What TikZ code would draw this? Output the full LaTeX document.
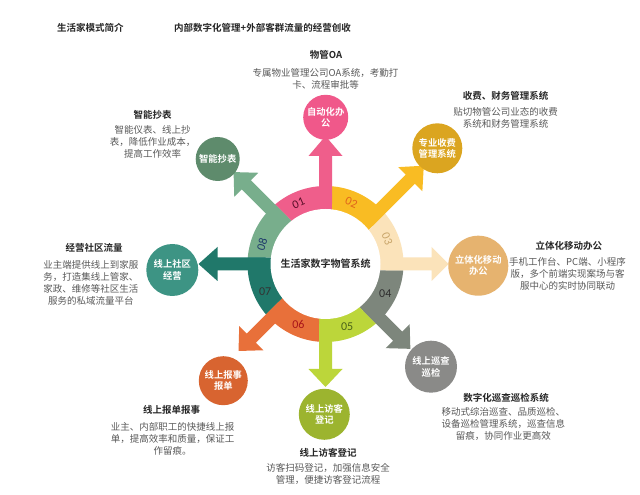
\documentclass[tikz,border=0pt]{standalone}
\usepackage{fontspec}
\setmainfont{Noto Sans CJK SC}[BoldFont={Noto Sans CJK SC Bold}]
\newfontfamily\numfont{Carlito}
\usetikzlibrary{calc}
\definecolor{s1}{HTML}{EF5E8B}
\definecolor{s2}{HTML}{F9BC23}
\definecolor{s3}{HTML}{FBE3BA}
\definecolor{s4}{HTML}{7D867C}
\definecolor{s5}{HTML}{BCD63A}
\definecolor{s6}{HTML}{E8703A}
\definecolor{s7}{HTML}{20786A}
\definecolor{s8}{HTML}{78AE8C}
\definecolor{b1}{HTML}{F0588A}
\definecolor{b2}{HTML}{DBA520}
\definecolor{b3}{HTML}{E6B36F}
\definecolor{b4}{HTML}{8A8A88}
\definecolor{b5}{HTML}{9CB42F}
\definecolor{b6}{HTML}{D86430}
\definecolor{b7}{HTML}{3D9484}
\definecolor{b8}{HTML}{5E8B6C}
\definecolor{n1}{HTML}{5A0E28}
\definecolor{n2}{HTML}{E0651C}
\definecolor{n3}{HTML}{C9A66B}
\definecolor{n4}{HTML}{2E2E2E}
\definecolor{n5}{HTML}{4A6318}
\definecolor{n6}{HTML}{A8141A}
\definecolor{n7}{HTML}{333333}
\definecolor{n8}{HTML}{1F3A6B}
\definecolor{hd}{HTML}{262626}
\definecolor{dc}{HTML}{595959}
\begin{document}
\begin{tikzpicture}[x=1pt,y=1pt,
  heading/.style={font=\bfseries\fontsize{9.5}{12}\selectfont, text=hd, inner sep=0},
  desc/.style={font=\fontsize{9.5}{12}\selectfont, text=dc, align=center, inner sep=0},
  bub/.style={circle, text=white, font=\bfseries\fontsize{9.3}{11.5}\selectfont, align=center, inner sep=0},
  numlbl/.style={font=\numfont\fontsize{12}{12}\selectfont, inner sep=0}]
\useasboundingbox (0,0) rectangle (640,495);
\fill[white] (0,0) rectangle (640,495);
\coordinate (C) at (325.5,231);
\def\Rout{78}\def\Rin{55}\def\hw{6.5}
% ring segments
\foreach \t/\col in {90/s1,45/s2,0/s3,-45/s4,-90/s5,-135/s6,-180/s7,-225/s8} {
  \fill[\col] ($(C)+({\t-90}:\hw)$) -- ($(C)+({\t-asin(\hw/\Rout)}:\Rout)$)
    arc[start angle={\t-asin(\hw/\Rout)}, end angle={\t+45-asin(\hw/\Rout)}, radius=\Rout]
    -- ($(C)+({\t-45}:\hw)$) -- cycle;
}
% arrows
\foreach \t/\lb/\lt/\col in {90/108/128/s1, 45/120/139/s2, 0/106/123/s3, -45/102/120/s4, -90/105/123/s5, -135/105/123/s6, 180/108/127/s7, 135/112/130/s8} {
  \fill[\col, shift={(C)}, rotate=\t] (60,-\hw) -- (\lb,-\hw) -- (\lb,-17) -- (\lt,0) -- (\lb,17) -- (\lb,\hw) -- (60,\hw) -- cycle;
}
\fill[white] (C) circle[radius=\Rin];
\node[font=\bfseries\fontsize{10}{12}\selectfont, text=hd] (ctr) at (C) {生活家数字物管系统};
% numbers
\node[numlbl, text=n1, rotate=24] (k1) at ($(C)+(114:66.5)$) {01};
\node[numlbl, text=n2, rotate=-23] (k2) at ($(C)+(67:66.5)$) {02};
\node[numlbl, text=n3, rotate=-68] (k3) at ($(C)+(22:66.5)$) {03};
\node[numlbl, text=n4] (k4) at ($(C)+(-26:66.5)$) {04};
\node[numlbl, text=n5] (k5) at ($(C)+(-71:66.5)$) {05};
\node[numlbl, text=n6] (k6) at ($(C)+(-114:66.5)$) {06};
\node[numlbl, text=n7] (k7) at ($(C)+(205:66.5)$) {07};
\node[numlbl, text=n8, rotate=73] (k8) at ($(C)+(163:66.5)$) {08};
% bubbles
\node[bub, fill=b1, minimum size=45pt] (c1) at (325.7,377.7) {自动化办\\公};
\node[bub, fill=b2, minimum size=50pt] (c2) at (437.3,346.7) {专业收费\\管理系统};
\node[bub, fill=b3, minimum size=60pt] (c3) at (478.3,229.3) {立体化移动\\办公};
\node[bub, fill=b4, minimum size=52pt] (c4) at (431,128.3) {线上巡查\\巡检};
\node[bub, fill=b5, minimum size=51pt] (c5) at (324.3,80.7) {线上访客\\登记};
\node[bub, fill=b6, minimum size=49pt] (c6) at (223.3,114.3) {线上报事\\报单};
\node[bub, fill=b7, minimum size=52pt] (c7) at (172.3,225) {线上社区\\经营};
\node[bub, fill=b8, minimum size=44pt] (c8) at (217.7,336) {智能抄表};
% titles
\node[heading, anchor=west] (t1) at (57,467) {生活家模式简介};
\node[heading] (t2) at (262.5,467) {内部数字化管理+外部客群流量的经营创收};
% descriptions
\node[heading] (h1) at (326,440) {物管OA};
\node[desc] (d1) at (325.5,416) {专属物业管理公司OA系统，考勤打\\卡、流程审批等};
\node[heading] (h2) at (505.5,399.3) {收费、财务管理系统};
\node[desc] (d2) at (505.5,377.2) {贴切物管公司业态的收费\\系统和财务管理系统};
\node[heading] (h3) at (568.8,249) {立体化移动办公};
\node[desc] (d3) at (567.5,221) {手机工作台、PC端、小程序\\版，多个前端实现案场与客\\服中心的实时协同联动};
\node[heading] (h4) at (506,97.3) {数字化巡查巡检系统};
\node[desc] (d4) at (503.3,71) {移动式综治巡查、品质巡检、\\设备巡检管理系统，巡查信息\\留痕，协同作业更高效};
\node[heading] (h5) at (328,42.3) {线上访客登记};
\node[desc] (d5) at (328,20.8) {访客扫码登记，加强信息安全\\管理，便捷访客登记流程};
\node[heading] (h6) at (171.7,85) {线上报单报事};
\node[desc] (d6) at (172.5,56.1) {业主、内部职工的快捷线上报\\单，提高效率和质量，保证工\\作留痕。};
\node[heading] (h7) at (94,246.7) {经营社区流量};
\node[desc] (d7) at (90.8,211.8) {业主端提供线上到家服\\务，打造集线上管家、\\家政、维修等社区生活\\服务的私域流量平台};
\node[heading] (h8) at (152.5,380) {智能抄表};
\node[desc] (d8) at (152.5,353.3) {智能仪表、线上抄\\表，降低作业成本，\\提高工作效率};
\end{tikzpicture}
\end{document}
